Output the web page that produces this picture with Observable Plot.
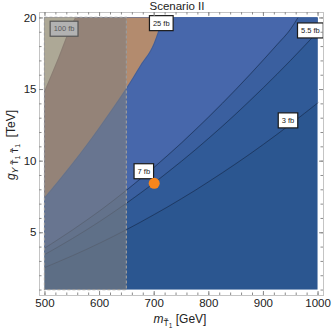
<!DOCTYPE html>
<html><head><meta charset="utf-8">
<script src="https://cdn.jsdelivr.net/npm/d3@7"></script>
<script src="https://cdn.jsdelivr.net/npm/@observablehq/plot@0.6"></script>
<style>
body{margin:0;background:#fff;font-family:"Liberation Sans",Arial,sans-serif;}
#wrap{position:relative;width:332px;height:332px;}
#title{position:absolute;left:0;top:0;width:354px;text-align:center;font-size:11.5px;line-height:13px;color:#222;}
</style></head>
<body><div id="wrap"><div id="chart"></div><div id="title">Scenario II</div></div>
<script>
// ---- data ----
const mRange = [500, 1000];          // GeV
const gRange = [1, 20];              // TeV
const excludedM = [500, 650];        // shaded (excluded) mass band
const mGrid = [500,525,550,575,600,625,650,675,700,725,750,775,800,825,850,875,900,925,950,975,1000];
const g3fb  = [2.58,2.98,3.39,3.82,4.27,4.74,5.23,5.74,6.27,6.81,7.38,7.96,8.57,9.19,9.83,10.49,11.17,11.87,12.59,13.33,14.08];
const g55fb = [3.49,4.03,4.59,5.17,5.78,6.42,7.08,7.77,8.48,9.23,9.99,10.78,11.60,12.44,13.31,14.21,15.13,16.07,17.04,18.04,19.06];
const m7fb  = [500,525,550,575,600,625,650,675,700,725,750,775,800,825,850,875,900,925,950,963];
const g7fb  = [3.94,4.55,5.18,5.84,6.52,7.24,7.99,8.77,9.57,10.41,11.27,12.17,13.09,14.04,15.02,16.03,17.07,18.13,19.23,20];
const m25fb = [500,525,550,575,600,625,650,675,700,716];
const g25fb = [7.45,8.59,9.78,11.03,12.33,13.69,15.10,16.65,18.2,20];
const m100fb = [500,525,550,556];
const g100fb = [14.9,17.18,19.56,20];
const labelText = ["100 fb","25 fb","5.5 fb","3 fb","7 fb"];
const labelM = [535, 713, 986, 945, 681];
const labelG = [19.24, 19.63, 19.12, 12.84, 9.29];
const benchM = [700];
const benchG = [8.45];
const xMajor = [500,600,700,800,900,1000];
const yMajor = [5,10,15,20];
const xMinor = d3.range(500, 1001, 20);
const yMinor = d3.range(1, 21, 1);

// ---- build tables ----
const rows = (ms, gs) => ms.map((m, i) => ({m, g: gs[i]}));
const c3 = rows(mGrid, g3fb), c55 = rows(mGrid, g55fb), c7 = rows(m7fb, g7fb),
      c25 = rows(m25fb, g25fb), c100 = rows(m100fb, g100fb);
const labels = labelText.map((t, i) => ({t, m: labelM[i], g: labelG[i]}));
const bench = rows(benchM, benchG);
const gTop = gRange[1];

const W = 332, H = 332, mL = 39, mR = 9, mT = 12, mB = 37;
const innerW = W - mL - mR, innerH = H - mT - mB;
const col = {lt3:"#2b5690", b3:"#305a97", b55:"#3a5f9f", b7:"#4767ab", orange:"#b38b6e", beige:"#f2e6b8"};
const tickC = "#8c8c8c";
const one = [0];

const plot = Plot.plot({
  width: W, height: H, marginLeft: mL, marginRight: mR, marginTop: mT, marginBottom: mB,
  x: {domain: [490, 1010]},
  y: {domain: [0.62, 20.38]},
  style: {fontFamily: '"Liberation Sans", Arial, sans-serif', fontSize: "11.5px", color: "#222", background: "#fff"},
  marks: [
    Plot.rect(one, {x1: () => mRange[0], x2: () => mRange[1], y1: () => gRange[0], y2: () => gRange[1], fill: col.lt3}),
    Plot.areaY(c3,   {x: "m", y1: "g", y2: () => gTop, fill: col.b3, curve: "monotone-x"}),
    Plot.areaY(c55,  {x: "m", y1: "g", y2: () => gTop, fill: col.b55, curve: "monotone-x"}),
    Plot.areaY(c7,   {x: "m", y1: "g", y2: () => gTop, fill: col.b7, curve: "monotone-x"}),
    Plot.areaY(c25,  {x: "m", y1: "g", y2: () => gTop, fill: col.orange, curve: "monotone-x"}),
    Plot.areaY(c100, {x: "m", y1: "g", y2: () => gTop, fill: col.beige, curve: "monotone-x"}),
    Plot.line(c3,  {x: "m", y: "g", stroke: "#14213d", strokeOpacity: 0.75, strokeWidth: 0.7, curve: "monotone-x"}),
    Plot.line(c55, {x: "m", y: "g", stroke: "#14213d", strokeOpacity: 0.75, strokeWidth: 0.7, curve: "monotone-x"}),
    Plot.line(c7,  {x: "m", y: "g", stroke: "#14213d", strokeOpacity: 0.75, strokeWidth: 0.7, curve: "monotone-x"}),
    Plot.line(c25, {x: "m", y: "g", stroke: "#3a3a3a", strokeOpacity: 0.35, strokeWidth: 0.6, curve: "monotone-x"}),
    Plot.line(c100,{x: "m", y: "g", stroke: "#3a3a3a", strokeOpacity: 0.3, strokeWidth: 0.6, curve: "monotone-x"}),
    Plot.text(labels.slice(0, 1), {x: "m", y: "g", text: "t", fontSize: 7.5, fill: "#222", ariaDescription: "clabel"}),
    Plot.rect(one, {x1: () => excludedM[0], x2: () => excludedM[1], y1: () => gRange[0], y2: () => gRange[1], fill: "#7e7e7e", fillOpacity: 0.6}),
    Plot.rect(one, {x1: () => excludedM[0], x2: () => excludedM[1], y1: () => gRange[0], y2: () => gRange[1], fill: "none", stroke: "#9a9a9a", strokeWidth: 1.2, strokeDasharray: "3,2"}),
    Plot.text(labels.slice(1), {x: "m", y: "g", text: "t", fontSize: 7.5, fill: "#222", ariaDescription: "clabel"}),
    Plot.dot(bench, {x: "m", y: "g", r: 5.5, fill: "#f7861c", stroke: "none"}),
    Plot.frame({stroke: "#c4c4c4"}),
    Plot.tickX(xMajor, {x: d => d, stroke: tickC, insetTop: innerH - 4}),
    Plot.tickX(xMajor, {x: d => d, stroke: tickC, insetBottom: innerH - 4}),
    Plot.tickX(xMinor, {x: d => d, stroke: tickC, insetTop: innerH - 2.5}),
    Plot.tickX(xMinor, {x: d => d, stroke: tickC, insetBottom: innerH - 2.5}),
    Plot.tickY(yMajor, {y: d => d, stroke: tickC, insetRight: innerW - 4}),
    Plot.tickY(yMajor, {y: d => d, stroke: tickC, insetLeft: innerW - 4}),
    Plot.tickY(yMinor, {y: d => d, stroke: tickC, insetRight: innerW - 2.5}),
    Plot.tickY(yMinor, {y: d => d, stroke: tickC, insetLeft: innerW - 2.5}),
    Plot.axisX({ticks: xMajor, tickSize: 0, tickPadding: 3, tickFormat: "d", label: null}),
    Plot.axisY({ticks: yMajor, tickSize: 0, tickPadding: 3, tickFormat: "d", label: null})
  ]
});
document.getElementById("chart").append(plot);

const svg = d3.select(plot);
// framed contour labels
svg.selectAll('g[aria-description="clabel"] text').each(function () {
  const b = this.getBBox();
  d3.select(this.parentNode).insert("rect", () => this)
    .attr("transform", this.getAttribute("transform"))
    .attr("x", b.x - 3.5).attr("y", b.y - 3).attr("width", b.width + 7).attr("height", b.height + 6)
    .attr("fill", "#fff").attr("stroke", "#1a1a1a").attr("stroke-width", 1.2);
});
// axis titles
const xs = plot.scale("x");
const xl = svg.append("text").attr("x", (xs.apply(mRange[0]) + xs.apply(mRange[1])) / 2 - 1).attr("y", 323)
  .attr("text-anchor", "middle").attr("fill", "#222").style("font-size", "12px");
xl.append("tspan").attr("font-style", "italic").text("m");
xl.append("tspan").attr("dy", 3).style("font-size", "8.5px").text("T\u0303");
xl.append("tspan").attr("dy", 2).style("font-size", "6.5px").text("1");
xl.append("tspan").attr("dy", -5).text(" [GeV]");

const yl = svg.append("text").attr("transform", "translate(15,145) rotate(-90)")
  .attr("text-anchor", "middle").attr("fill", "#222").style("font-size", "12px");
yl.append("tspan").attr("font-style", "italic").text("g");
yl.append("tspan").attr("dy", 3).style("font-size", "9px").attr("font-style", "italic").text("Y");
yl.append("tspan").style("font-size", "9px").text(" T\u0303");
yl.append("tspan").attr("dy", 2).style("font-size", "7px").text("1");
yl.append("tspan").attr("dy", -2).style("font-size", "9px").text(" T\u0303");
yl.append("tspan").attr("dy", 2).style("font-size", "7px").text("1");
yl.append("tspan").attr("dy", -5).text("  [TeV]");
</script>
</body></html>
